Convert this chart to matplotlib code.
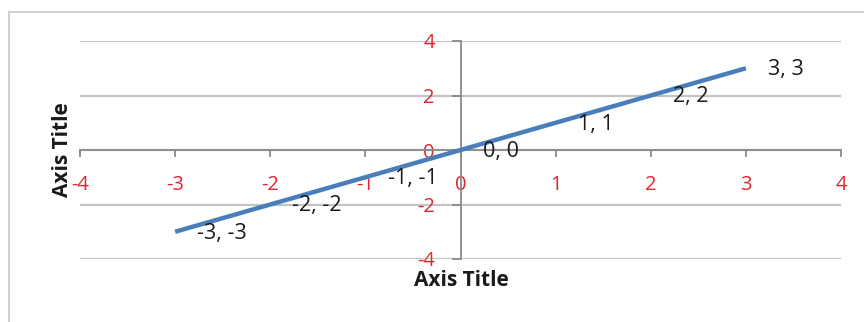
import matplotlib.pyplot as plt
from matplotlib.patches import Rectangle

x_vals = [-3, -2, -1, 0, 1, 2, 3]
y_vals = [-3, -2, -1, 0, 1, 2, 3]
x_ticks = [-4, -3, -2, -1, 0, 1, 2, 3, 4]
y_ticks = [-4, -2, 0, 2, 4]

plt.rcParams['font.family'] = ['Open Sans', 'DejaVu Sans']
plt.rcParams['axes.unicode_minus'] = False

fig = plt.figure(figsize=(8.64, 3.22), dpi=100)
W, H = 864, 322

# outer chart frame (only left and top edges visible)
fig.patches.append(Rectangle((9 / W, -0.1), 1.2, (H - 12) / H + 0.1,
                             transform=fig.transFigure, fill=False,
                             edgecolor='#d0d0d0', linewidth=1.5))

ax = fig.add_axes([80 / W, (H - 259) / H, 761 / W, 218 / H])
ax.set_xlim(-4, 4)
ax.set_ylim(-4, 4)

# horizontal gridlines
for yv in y_ticks:
    ax.axhline(yv, color='#c4c4c4', linewidth=1.6, zorder=1)

ax.plot(x_vals, y_vals, color='#4a7ebb', linewidth=3.2, solid_capstyle='butt', zorder=3)

for xv, yv in zip(x_vals, y_vals):
    ax.annotate(f'{xv}, {yv}', (xv, yv), xytext=(16, -1), textcoords='offset points',
                ha='left', va='center', fontsize=15.5, color='#1a1a1a', zorder=4)

ax.spines['top'].set_visible(False)
ax.spines['right'].set_visible(False)
ax.spines['left'].set_position(('data', 0))
ax.spines['bottom'].set_position(('data', 0))
for s in ('left', 'bottom'):
    ax.spines[s].set_color('#8a8a8a')
    ax.spines[s].set_linewidth(1.3)
    ax.spines[s].set_zorder(2)

ax.set_xticks(x_ticks)
ax.set_yticks(y_ticks)
ax.tick_params(axis='x', direction='out', length=5, width=1.3, color='#8a8a8a',
               pad=13, labelsize=14.5, labelcolor='#e0262f')
ax.tick_params(axis='y', direction='out', length=6.5, width=1.3, color='#8a8a8a',
               pad=12, labelsize=14.5, labelcolor='#e0262f')
ax.set_facecolor('none')

fig.text(461 / W, 1 - 281 / H, 'Axis Title', ha='center', va='center',
         fontsize=15, fontweight='bold', color='#1a1a1a')
fig.text(62 / W, 1 - 150 / H, 'Axis Title', ha='center', va='center', rotation=90,
         fontsize=15, fontweight='bold', color='#1a1a1a')

fig.savefig('out.png', dpi=100)
